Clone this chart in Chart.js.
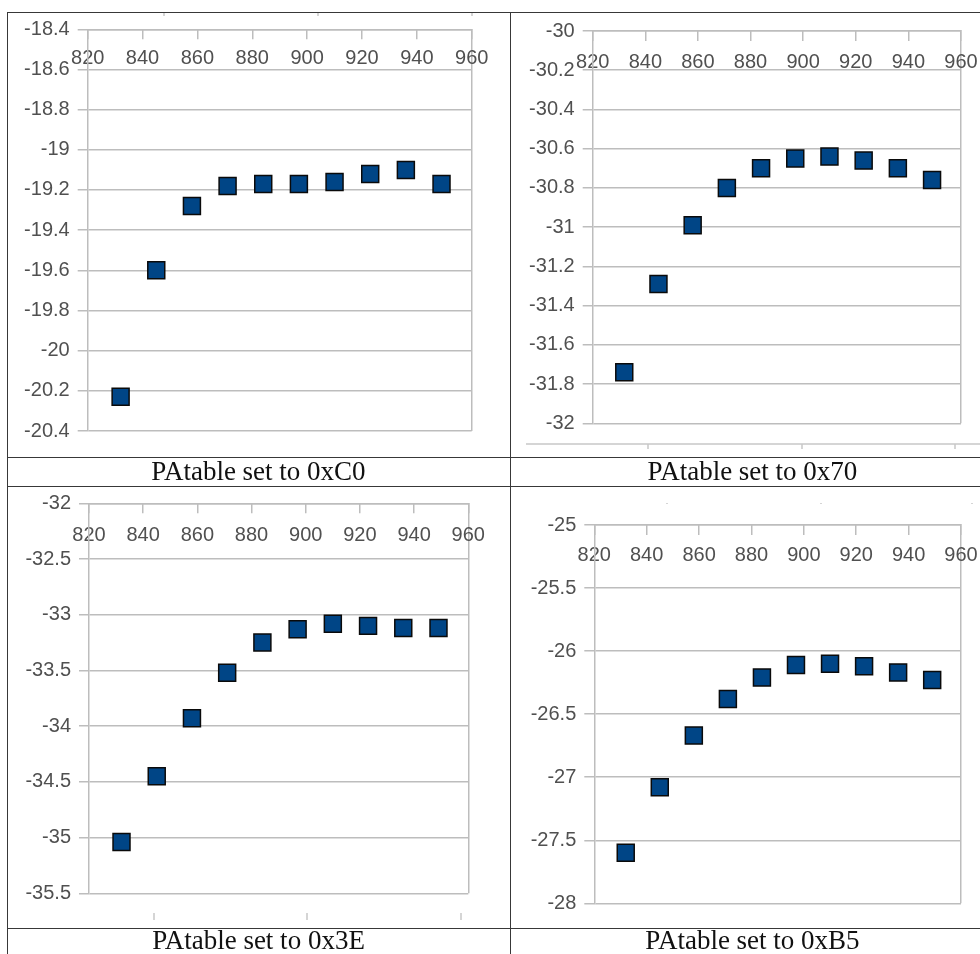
<!DOCTYPE html>
<html>
<head>
<meta charset="utf-8">
<title>PAtable output power vs frequency</title>
<script src="https://cdn.jsdelivr.net/npm/chart.js@4/dist/chart.umd.min.js"></script>
<style>
  html, body { margin: 0; padding: 0; background: #fff; width: 980px; height: 954px; overflow: hidden; }
  #page { position: relative; width: 980px; height: 954px; }
  .hl { position: absolute; height: 1px; background: #383838; }
  .vl { position: absolute; width: 1px; background: #383838; }
  canvas { position: absolute; }
  .cap {
    position: absolute; font-family: "Liberation Serif", "DejaVu Serif", serif;
    font-size: 27px; line-height: 27px; color: #111; text-align: center; white-space: nowrap;
  }
</style>
</head>
<body>
<div id="page">
  <canvas id="c0"></canvas>
  <canvas id="c1"></canvas>
  <canvas id="c2"></canvas>
  <canvas id="c3"></canvas>

  <!-- table rules -->
  <div class="hl" style="left:7px;top:12px;width:990px;"></div>
  <div class="hl" style="left:7px;top:457px;width:990px;"></div>
  <div class="hl" style="left:7px;top:486px;width:990px;"></div>
  <div class="hl" style="left:7px;top:928px;width:990px;"></div>
  <div class="vl" style="left:7px;top:12px;height:950px;"></div>
  <div class="vl" style="left:510px;top:12px;height:950px;"></div>

  <div class="cap" id="cap0" style="left:7px;width:503px;top:458px;"></div>
  <div class="cap" id="cap1" style="left:510px;width:485px;top:458px;"></div>
  <div class="cap" id="cap2" style="left:7px;width:503px;top:927px;"></div>
  <div class="cap" id="cap3" style="left:510px;width:485px;top:927px;"></div>
</div>

<script>
// Channel frequencies (MHz) shared by all four sweeps
const frequencies = [832, 845, 858, 871, 884, 897, 910, 923, 936, 949];

// Measured output power (dBm) for each PATABLE setting
const powerC0 = [-20.23, -19.60, -19.28, -19.18, -19.17, -19.17, -19.16, -19.12, -19.10, -19.17];
const power70 = [-31.74, -31.29, -30.99, -30.80, -30.70, -30.65, -30.64, -30.66, -30.70, -30.76];
const power3E = [-35.04, -34.45, -33.93, -33.52, -33.25, -33.13, -33.08, -33.10, -33.12, -33.12];
const powerB5 = [-27.60, -27.08, -26.67, -26.38, -26.21, -26.11, -26.10, -26.12, -26.17, -26.23];

const captions = ['PAtable set to 0xC0', 'PAtable set to 0x70', 'PAtable set to 0x3E', 'PAtable set to 0xB5'];

// Axis ranges
const xMin = 820, xMax = 960, xStep = 20;
const yMins  = [-20.4, -32, -35.5, -28];
const yMaxs  = [-18.4, -30, -32,   -25];
const ySteps = [0.2,   0.2, 0.5,   0.5];

// Page layout: table cells and the plot rectangle inside each one
const cells = [
  { x: 8,   y: 13,  w: 502, h: 444 },
  { x: 511, y: 13,  w: 469, h: 444 },
  { x: 8,   y: 487, w: 502, h: 441 },
  { x: 511, y: 487, w: 469, h: 441 }
];
const plots = [
  { l: 87.7,  t: 29.3,  r: 471.7, b: 431 },
  { l: 592.7, t: 31,    r: 961,   b: 423.3 },
  { l: 89,    t: 503.3, r: 468.3, b: 893.3 },
  { l: 594.3, t: 525,   r: 961,   b: 903.3 }
];
const labelGaps = [29.3, 31, 32, 30.3];

// faint leftover axis fragments in each panel (page coordinates)
const leftovers = [
  { y: 13,  len: 3, xs: [164, 318, 472] },
  { y: 444, len: 5, xs: [648, 802, 955], line: [526, 980] },
  { y: 913, len: 7, xs: [154, 307, 461] },
  { y: 503, len: 1, xs: [667, 821, 972] }
];

const GRID = '#bdbdbd';
const TEXT = '#505050';
const tickFont = { family: 'Liberation Sans', size: 20 };

// plain number text: "-19", "-18.4", "-32.5"
const fmt = v => String(Number(v.toFixed(3)));

const leftoverPlugin = {
  id: 'leftover',
  afterDraw(chart, args, opts) {
    const d = opts.def, cell = opts.cell;
    if (!d) return;
    const ctx = chart.ctx;
    ctx.save();
    ctx.strokeStyle = '#c8c8c8';
    ctx.lineWidth = 1.5;
    ctx.beginPath();
    if (d.line) {
      ctx.moveTo(d.line[0] - cell.x, d.y - cell.y);
      ctx.lineTo(d.line[1] - cell.x, d.y - cell.y);
    }
    d.xs.forEach(x => {
      ctx.moveTo(x - cell.x, d.y - cell.y);
      ctx.lineTo(x - cell.x, d.y - cell.y + d.len);
    });
    ctx.stroke();
    ctx.restore();
  }
};

function makePanel(i, values) {
  const cell = cells[i], plot = plots[i];
  const canvas = document.getElementById('c' + i);
  canvas.width = cell.w;
  canvas.height = cell.h;
  canvas.style.left = cell.x + 'px';
  canvas.style.top = cell.y + 'px';
  canvas.style.width = cell.w + 'px';
  canvas.style.height = cell.h + 'px';
  document.getElementById('cap' + i).textContent = captions[i];

  const yWidth = plot.l - cell.x;

  new Chart(canvas, {
    type: 'scatter',
    data: {
      datasets: [{
        data: frequencies.map((f, k) => ({ x: f, y: values[k] })),
        pointStyle: 'rect',
        pointRadius: 12,
        pointHoverRadius: 12,
        pointBackgroundColor: '#004586',
        pointBorderColor: '#0a0a0a',
        pointBorderWidth: 1.5,
        showLine: false
      }]
    },
    options: {
      responsive: false,
      animation: false,
      events: [],
      devicePixelRatio: 1,
      layout: {
        padding: {
          left: 0,
          top: plot.t - cell.y,
          right: cell.x + cell.w - plot.r,
          bottom: cell.y + cell.h - plot.b
        }
      },
      plugins: {
        legend: { display: false },
        tooltip: { enabled: false },
        leftover: { def: leftovers[i], cell: cell }
      },
      scales: {
        x: {
          type: 'linear',
          position: 'top',
          min: xMin,
          max: xMax,
          ticks: {
            stepSize: xStep,
            mirror: true,
            padding: labelGaps[i] - 12,
            autoSkip: false,
            maxRotation: 0,
            font: tickFont,
            color: TEXT,
            callback: fmt
          },
          grid: {
            drawTicks: true,
            tickLength: -10,
            lineWidth: 1.5,
            tickWidth: 1.5,
            tickColor: GRID,
            color: ctx => (ctx.tick && ctx.tick.value === xMax) ? GRID : 'rgba(0,0,0,0)'
          },
          border: { display: true, color: GRID, width: 1.5 },
          afterFit: s => { s.height = 0; s.paddingLeft = 0; s.paddingRight = 0; }
        },
        y: {
          type: 'linear',
          position: 'left',
          min: yMins[i],
          max: yMaxs[i],
          ticks: {
            stepSize: ySteps[i],
            padding: 8,
            font: tickFont,
            color: TEXT,
            callback: fmt
          },
          grid: {
            color: GRID,
            lineWidth: 1.5,
            tickLength: 10
          },
          border: { display: true, color: GRID, width: 1.5 },
          afterFit: s => { s.width = yWidth; s.paddingTop = 0; s.paddingBottom = 0; }
        }
      }
    },
    plugins: [leftoverPlugin]
  });
}

makePanel(0, powerC0);
makePanel(1, power70);
makePanel(2, power3E);
makePanel(3, powerB5);
</script>
</body>
</html>
